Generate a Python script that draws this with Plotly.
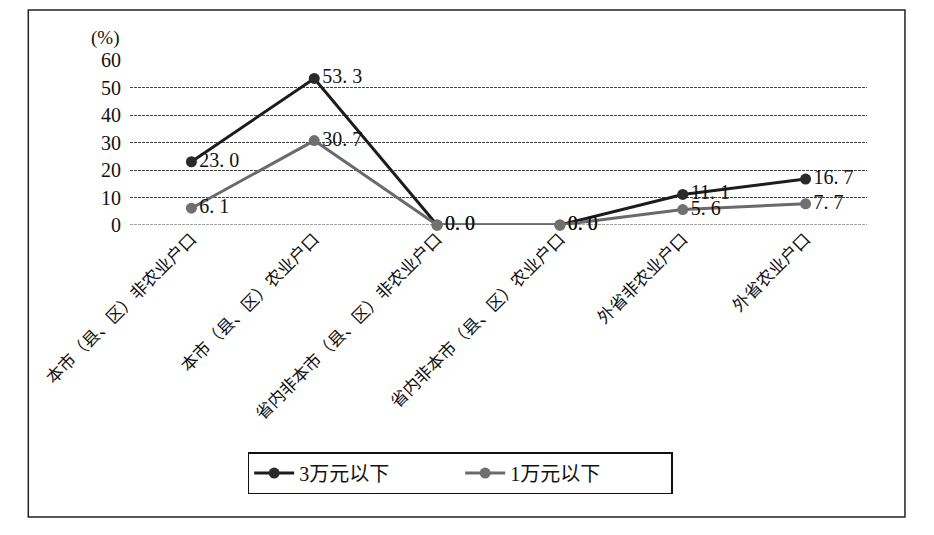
import plotly.graph_objects as go

categories = ['本市（县、区）非农业户口', '本市（县、区）农业户口',
              '省内非本市（县、区）非农业户口', '省内非本市（县、区）农业户口',
              '外省非农业户口', '外省农业户口']
below_3w = [23.0, 53.3, 0.0, 0.0, 11.1, 16.7]
below_1w = [6.1, 30.7, 0.0, 0.0, 5.6, 7.7]
y_ticks = [0, 10, 20, 30, 40, 50, 60]

serif = 'Liberation Serif, Noto Sans CJK SC'


def label(v):
    # the scan prints values with a wide gap after the point
    return f'{v:.1f}'.replace('.', '. ')


fig = go.Figure()

fig.add_trace(go.Scatter(
    x=categories, y=below_3w,
    name='3万元以下',
    mode='lines+markers+text',
    text=[label(v) for v in below_3w],
    textposition='middle right',
    textfont=dict(family=serif, size=20, color='#111'),
    line=dict(color='#1c1c1c', width=3),
    marker=dict(color='#2a2a2a', size=11),
    cliponaxis=False
))

fig.add_trace(go.Scatter(
    x=categories, y=below_1w,
    name='1万元以下',
    mode='lines+markers+text',
    text=[label(v) for v in below_1w],
    textposition='middle right',
    textfont=dict(family=serif, size=20, color='#111'),
    line=dict(color='#6a6a6a', width=3),
    marker=dict(color='#707070', size=11),
    cliponaxis=False
))

fig.update_layout(
    width=926,
    height=527,
    margin=dict(l=122, r=67, t=52, b=310),
    paper_bgcolor='white',
    plot_bgcolor='white',
    font=dict(family=serif, color='#111'),
    showlegend=True,
    legend=dict(
        orientation='h',
        x=0.448, y=-1.376,
        xanchor='center', yanchor='top',
        bordercolor='#111', borderwidth=1.5,
        font=dict(family=serif, size=20),
        entrywidth=156,
        itemwidth=40,
    ),
    xaxis=dict(
        type='category',
        range=[-0.5, 5.5],
        showgrid=False,
        zeroline=False,
        showline=False,
        ticks='',
        tickangle=-45,
        tickfont=dict(family='Noto Sans CJK SC', size=17, color='#111'),
    ),
    yaxis=dict(
        range=[0, 60],
        tickvals=y_ticks,
        showgrid=True,
        gridcolor='#444',
        gridwidth=1,
        griddash='3px,1px',
        zeroline=False,
        showline=False,
        ticks='',
        ticklabelstandoff=8,
        tickfont=dict(family=serif, size=20, color='#111'),
    ),
    annotations=[dict(
        text='(%)', xref='paper', yref='paper',
        x=-0.034, y=1.133, xanchor='center', yanchor='middle',
        showarrow=False,
        font=dict(family=serif, size=19, color='#111')
    )],
    shapes=[
        dict(type='line', xref='paper', yref='y', x0=0, x1=1, y0=0, y1=0,
             line=dict(color='#444', width=1, dash='3px,1px'), layer='below'),
        dict(type='rect', xref='paper', yref='paper',
             x0=-0.138, x1=1.0515, y0=-1.770, y1=1.303,
             line=dict(color='#222', width=1.5)),
    ],
)

fig.write_html('out.html')
